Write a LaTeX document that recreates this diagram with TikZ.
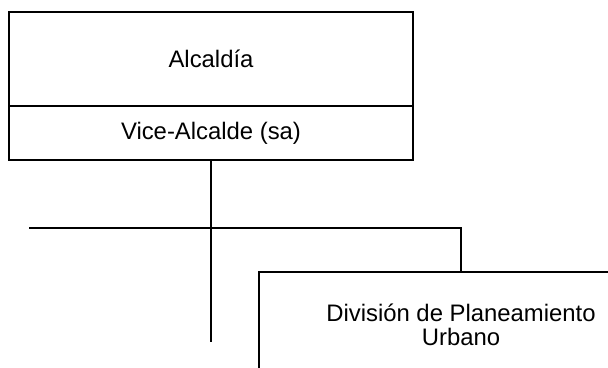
\documentclass[tikz,border=0pt]{standalone}
\usepackage{fontspec}
\setmainfont{Liberation Sans}
\tikzset{unit/.style={draw, line width=1.4pt, minimum width=303pt, inner sep=0pt, outer sep=0pt, align=center, font=\fontsize{17.9}{18}\selectfont}}
\begin{document}
\begin{tikzpicture}[x=0.75pt,y=-0.75pt,line width=1.4pt]
\useasboundingbox (0,0) rectangle (608,368);
\clip (0,0) rectangle (608,368);
\node[unit, minimum height=70.5pt, anchor=north west] (alc) at (9,12) {Alcaldía};
\node[unit, minimum height=40.5pt, anchor=north] (vice) at (alc.south) {Vice-Alcalde (sa)};
\node[unit, minimum height=79.5pt, anchor=north west] (div) at (259,272) {División de Planeamiento\\Urbano};
\coordinate (stem) at (211,342);
\coordinate (bus) at (29,228);
\draw (vice.south) -- (stem);
\draw (bus) -| (div.north);
\end{tikzpicture}
\end{document}
